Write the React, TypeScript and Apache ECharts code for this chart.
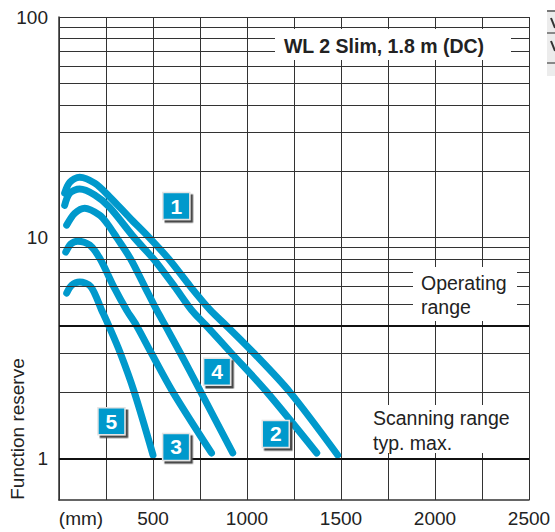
import React, { useEffect, useRef } from 'react';
import * as echarts from 'echarts';

const FONT = 'Liberation Sans, Arial, sans-serif';
const BLUE = '#0099cc';

// axes
const xMin = 0;
const xMax = 2500;
const xStep = 250;
const yMin = 0.647;
const yMax = 100;
const yMinorGrid = [2, 3, 5, 6, 7, 8, 9, 10, 20, 30, 40, 50, 60, 70, 80, 90, 100];
const yThickGrid = [1, 4];

// curves (distance mm, function reserve)
const curve1X = [30, 57, 110, 190, 270, 378, 480, 584, 699, 805, 889, 1036, 1227, 1482];
const curve1Y = [15.9, 17.8, 18.8, 17.65, 15.3, 12.25, 10, 8, 6, 4.69, 4, 3, 2, 1.035];
const curve2X = [30, 57, 110, 190, 268, 400, 503, 615, 706, 782, 916, 1105, 1371];
const curve2Y = [14.0, 15.9, 16.6, 15.6, 13.75, 10, 8, 6, 4.69, 4, 3, 2, 1.057];
const curve3X = [36, 62, 99, 163, 219, 291, 360, 412, 491, 605, 811];
const curve3Y = [8.6, 9.35, 9.64, 9.25, 8, 6, 4.69, 4, 3, 2, 1.057];
const curve4X = [41, 84, 137, 216, 259, 307, 381, 456, 520, 565, 645, 754, 924];
const curve4Y = [11.4, 12.9, 13.6, 12.65, 11.5, 10, 8, 6, 4.69, 4, 3, 2, 1.057];
const curve5X = [41, 68, 110, 169, 227, 264, 326, 400, 500];
const curve5Y = [5.61, 6.09, 6.29, 6.0, 4.69, 4, 3, 2, 1.035];

// numbered label boxes
const boxLabels = ['1', '2', '3', '4', '5'];
const boxX = [624, 1153, 623, 841, 279];
const boxY = [13.9, 1.29, 1.125, 2.47, 1.47];

const curves = [
  { name: '1', x: curve1X, y: curve1Y },
  { name: '2', x: curve2X, y: curve2Y },
  { name: '3', x: curve3X, y: curve3Y },
  { name: '4', x: curve4X, y: curve4Y },
  { name: '5', x: curve5X, y: curve5Y },
];

export default function App() {
  const ref = useRef<HTMLDivElement>(null);
  useEffect(() => {
    document.body.style.margin = '0';
    const chart = echarts.init(ref.current!, undefined, { renderer: 'svg' });
    const gridSeries: any = {
      type: 'line',
      data: [],
      z: 1,
      silent: true,
      markLine: {
        silent: true,
        symbol: ['none', 'none'],
        label: { show: false },
        lineStyle: { color: '#333', width: 1, type: 'solid' },
        data: [
          ...yMinorGrid.map((v) => ({ yAxis: v })),
          ...yThickGrid.map((v) => ({ yAxis: v, lineStyle: { color: '#111', width: 2, type: 'solid' } })),
        ],
      },
    };
    const option: any = {
      animation: false,
      grid: { left: 59, right: 26, top: 17, bottom: 32, containLabel: false },
      xAxis: {
        type: 'value',
        min: xMin,
        max: xMax,
        interval: xStep,
        axisLine: { show: true, lineStyle: { color: '#333', width: 1.5 } },
        axisTick: { show: false },
        splitLine: { show: true, lineStyle: { color: '#333', width: 1 } },
        axisLabel: {
          margin: 9,
          color: '#222',
          fontSize: 19,
          fontFamily: FONT,
          showMaxLabel: true,
          showMinLabel: true,
          formatter: (v: number) => (v === 0 ? '{mm|(mm)}' : v % 500 === 0 ? String(v) : ''),
          rich: { mm: { fontSize: 19, fontFamily: FONT, color: '#222', padding: [0, 0, 0, 44] } },
        },
      },
      yAxis: {
        type: 'log',
        logBase: 10,
        min: yMin,
        max: yMax,
        axisLine: { show: true, lineStyle: { color: '#333', width: 1.5 } },
        axisTick: { show: false },
        splitLine: { show: false },
        minorSplitLine: { show: false },
        axisLabel: {
          margin: 11,
          color: '#222',
          fontSize: 19,
          fontFamily: FONT,
          showMinLabel: true,
          showMaxLabel: true,
          formatter: (v: number) => {
            const l = Math.log10(v);
            return Math.abs(l - Math.round(l)) < 1e-6 ? String(Math.round(Math.pow(10, Math.round(l)))) : '';
          },
        },
      },
      series: [
        gridSeries,
        ...curves.map((c) => ({
          type: 'line',
          name: c.name,
          data: c.x.map((x, i) => [x, c.y[i]]),
          showSymbol: false,
          smooth: 0.3,
          z: 3,
          lineStyle: { color: BLUE, width: 7, cap: 'round', join: 'round' },
        })),
        {
          type: 'scatter',
          z: 6,
          data: boxX.map((x, i) => ({ value: [x, boxY[i]], name: boxLabels[i] })),
          symbol: 'rect',
          symbolSize: 27,
          itemStyle: {
            color: BLUE,
            borderColor: '#e4e4e4',
            borderWidth: 1.5,
            shadowColor: '#4a4a4a',
            shadowOffsetX: 2.5,
            shadowOffsetY: 2.5,
            shadowBlur: 0,
            opacity: 1,
          },
          label: {
            show: true,
            position: 'inside',
            formatter: '{b}',
            color: '#fff',
            fontSize: 21,
            fontWeight: 'bold',
            fontFamily: FONT,
          },
        },
      ],
      graphic: [
        { type: 'rect', z: 50, shape: { x: 275, y: 29, width: 236, height: 31 }, style: { fill: '#fff' } },
        {
          type: 'text', z: 51, x: 384, y: 46,
          style: { text: 'WL 2 Slim, 1.8 m (DC)', fill: '#222', font: `bold 19.5px ${FONT}`, align: 'center', verticalAlign: 'middle' },
        },
        { type: 'rect', z: 50, shape: { x: 413, y: 267, width: 104, height: 54 }, style: { fill: '#fff' } },
        {
          type: 'text', z: 51, x: 421, y: 295,
          style: { text: 'Operating\nrange', fill: '#222', font: `19.5px ${FONT}`, lineHeight: 24, align: 'left', verticalAlign: 'middle' },
        },
        { type: 'rect', z: 50, shape: { x: 368, y: 405, width: 148, height: 48 }, style: { fill: '#fff' } },
        {
          type: 'text', z: 51, x: 373, y: 430,
          style: { text: 'Scanning range\ntyp. max.', fill: '#222', font: `19.5px ${FONT}`, lineHeight: 25, align: 'left', verticalAlign: 'middle' },
        },
        {
          type: 'text', z: 51, x: 17, y: 429, rotation: Math.PI / 2,
          style: { text: 'Function reserve', fill: '#222', font: `19px ${FONT}`, align: 'center', verticalAlign: 'middle' },
        },
        { type: 'rect', z: 50, shape: { x: 547, y: 10, width: 8, height: 66 }, style: { fill: '#ececec' } },
        { type: 'rect', z: 51, shape: { x: 547, y: 10, width: 8, height: 2 }, style: { fill: '#777' } },
        { type: 'rect', z: 51, shape: { x: 547, y: 32, width: 8, height: 2 }, style: { fill: '#888' } },
        { type: 'rect', z: 51, shape: { x: 547, y: 62, width: 8, height: 2 }, style: { fill: '#888' } },
        { type: 'polyline', z: 52, shape: { points: [[551, 18], [555, 28]] }, style: { stroke: '#333', lineWidth: 2, fill: 'none' } },
        { type: 'polyline', z: 52, shape: { points: [[551, 41], [555, 51]] }, style: { stroke: '#333', lineWidth: 2, fill: 'none' } },
      ],
    };
    chart.setOption(option);
    return () => chart.dispose();
  }, []);
  return <div ref={ref} style={{ width: 555, height: 532 }} />;
}
